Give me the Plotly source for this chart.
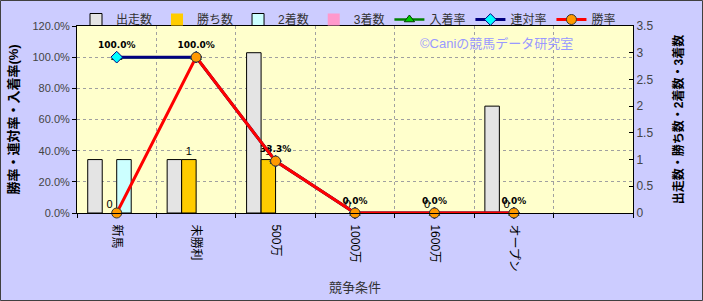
import plotly.graph_objects as go

categories = ["新馬", "未勝利", "500万", "1000万", "1600万", "オープン"]
runs = [1, 1, 3, 0, 0, 2]          # 出走数
wins = [0, 1, 1, 0, 0, 0]          # 勝ち数
seconds = [1, 0, 0, 0, 0, 0]       # 2着数
thirds = [0, 0, 0, 0, 0, 0]        # 3着数
place_rate = [100.0, 100.0, 33.3, 0.0, 0.0, 0.0]    # 入着率
rentai_rate = [100.0, 100.0, 33.3, 0.0, 0.0, 0.0]   # 連対率
win_rate = [0.0, 100.0, 33.3, 0.0, 0.0, 0.0]        # 勝率
n_slots = 7  # category slots on the axis (last one empty)

FONT = "Liberation Sans, Noto Sans CJK JP, sans-serif"
xs = list(range(len(categories)))


def outline(vals):
    # no visible outline for zero-height bars (as in the reference)
    return dict(color="#000000", width=[1 if v else 0 for v in vals])


fig = go.Figure()
fig.add_trace(go.Bar(name="出走数", x=xs, y=runs, marker=dict(color="#E4E4E4", line=outline(runs))))
fig.add_trace(go.Bar(name="勝ち数", x=xs, y=wins, marker=dict(color="#FFCC00", line=outline(wins)),
                     text=[str(v) for v in wins], textposition="outside",
                     textfont=dict(size=11, color="#000000", family=FONT), cliponaxis=False))
fig.add_trace(go.Bar(name="2着数", x=xs, y=seconds, marker=dict(color="#CCFFFF", line=outline(seconds))))
fig.add_trace(go.Bar(name="3着数", x=xs, y=thirds, marker=dict(color="#FF99CC", line=outline(thirds))))

fig.add_trace(go.Scatter(name="入着率", x=xs, y=place_rate, yaxis="y2", mode="lines+markers",
                         line=dict(color="#008000", width=2.5),
                         marker=dict(symbol="triangle-up", size=9, color="#00CC00",
                                     line=dict(color="#004000", width=1)), cliponaxis=False))
fig.add_trace(go.Scatter(name="連対率", x=xs, y=rentai_rate, yaxis="y2", mode="lines+markers+text",
                         line=dict(color="#000080", width=3),
                         marker=dict(symbol="diamond", size=9, color="#00FFFF",
                                     line=dict(color="#000080", width=1)),
                         texttemplate="%{y:.1f}%", textposition="top center",
                         textfont=dict(size=9, color="#000000", family="DejaVu Sans, sans-serif", weight="bold"),
                         cliponaxis=False))
fig.add_trace(go.Scatter(name="勝率", x=xs, y=win_rate, yaxis="y2", mode="lines+markers",
                         line=dict(color="#FF0000", width=3),
                         marker=dict(symbol="circle", size=10, color="#FF9900",
                                     line=dict(color="#333333", width=1)), cliponaxis=False))

L, R, T, B = 77, 70, 26, 88
W, H = 703, 301
pw, ph = W - L - R, H - T - B

fig.update_layout(
    width=W, height=H,
    margin=dict(l=L, r=R, t=T, b=B, pad=0, autoexpand=False),
    paper_bgcolor="#CCCCFF", plot_bgcolor="#FFFFCC",
    font=dict(family=FONT, size=12, color="#333333"),
    barmode="group", bargap=0.27, bargroupgap=0,
    showlegend=True,
    legend=dict(orientation="h", xref="container", yref="container",
                x=76 / W, y=1 - 5 / H, xanchor="left", yanchor="top",
                font=dict(size=12, color="#333333"), bgcolor="rgba(0,0,0,0)",
                traceorder="normal", itemwidth=30, tracegroupgap=0),
    xaxis=dict(range=[-0.5, n_slots - 0.5], tickmode="array", tickvals=xs, ticktext=categories,
               tickangle=90, ticks="", showgrid=False, zeroline=False, ticklabelstandoff=8,
               automargin=False,
               tickfont=dict(size=12, color="#000000"),
               showline=True, linecolor="#000000", linewidth=1, mirror=True,
               minor=dict(tickvals=[i - 0.5 for i in range(n_slots + 1)], showgrid=True,
                          gridcolor="#A0A0A0", griddash="dot", gridwidth=1,
                          ticks="outside", ticklen=4, tickcolor="#000000"),
               title=dict(text="競争条件", font=dict(size=13, color="#333333"), standoff=12)),
    yaxis=dict(side="right", range=[0, 3.5], dtick=0.5, tick0=0, showgrid=False, zeroline=False,
               ticks="inside", ticklen=4, tickcolor="#000000", automargin=False,
               showline=True, linecolor="#000000", linewidth=1,
               tickfont=dict(size=12, color="#444444"),
               title=dict(text="出走数・勝ち数・2着数・3着数",
                          font=dict(size=12, color="#000000", weight="bold"), standoff=22)),
    yaxis2=dict(overlaying="y", side="left", range=[0, 120], dtick=20, tick0=0,
                tickformat=".1f", ticksuffix="%", showgrid=True, gridcolor="#A0A0A0",
                griddash="dot", gridwidth=1, zeroline=False, automargin=False,
                ticks="outside", ticklen=4, tickcolor="#000000",
                showline=True, linecolor="#000000", linewidth=1,
                tickfont=dict(size=11, color="#444444"),
                title=dict(text="勝率・連対率・入着率(%)",
                           font=dict(size=13, color="#000000", weight="bold"), standoff=10)),
    annotations=[dict(text="©Caniの競馬データ研究室", xref="paper", yref="paper",
                      x=(496 - L) / pw, y=(H - B - 43) / ph, xanchor="center", yanchor="middle",
                      showarrow=False, font=dict(size=13, color="#9999FF"))],
    shapes=[dict(type="rect", xref="paper", yref="paper",
                 x0=(0.5 - L) / pw, x1=(W - 0.5 - L) / pw,
                 y0=-(B - 0.5) / ph, y1=(ph + T - 0.5) / ph,
                 line=dict(color="#404040", width=1), layer="above")],
)

fig.write_html("out.html")
